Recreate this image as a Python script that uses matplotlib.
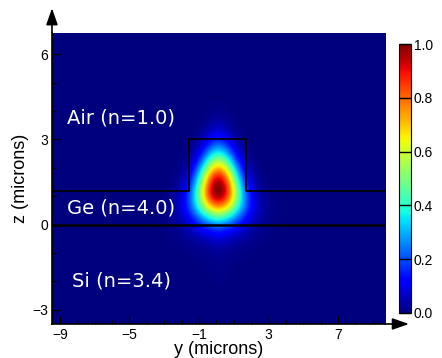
import matplotlib
matplotlib.use("Agg")
import matplotlib.pyplot as plt
import numpy as np

# structure (microns)
slab_top = 1.2
ridge_left, ridge_right, ridge_top = -1.6, 1.7, 3.0

# mode parameters
mode_y0, mode_z0 = 0.08, 1.2
mode_sy = 0.9
mode_sz_up, mode_sz_down = 0.92, 0.70
mode_taper = 0.17     # narrower on top
halo_amp, halo_len = 0.13, 1.0

y_lim = (-9.46, 9.7)
z_lim = (-3.5, 6.75)

xticks = [-9, -5, -1, 3, 7]
yticks = [-3, 0, 3, 6]
cticks = [0.0, 0.2, 0.4, 0.6, 0.8, 1.0]
labels = ["Air (n=1.0)", "Ge (n=4.0)", "Si (n=3.4)"]
label_pos = [(-8.6, 3.75), (-8.6, 0.58), (-8.3, -2.0)]

y = np.linspace(y_lim[0], y_lim[1], 600)
z = np.linspace(z_lim[0], z_lim[1], 400)
Y, Z = np.meshgrid(y, z)

sy = mode_sy * np.clip(1 - mode_taper * (Z - mode_z0), 0.3, None)
sz = np.where(Z > mode_z0, mode_sz_up, mode_sz_down)
core = np.exp(-((Y - mode_y0) / sy) ** 2 / 2 - ((Z - mode_z0) / sz) ** 2 / 2)
halo = halo_amp * np.exp(-np.abs(Y - mode_y0) / halo_len) * np.exp(-np.abs(Z - 0.6) / 0.8)
halo[(Z > slab_top) & ((Y < ridge_left) | (Y > ridge_right))] *= 0.2
field = np.clip(core + halo * (1 - core), 0, 1)

fig = plt.figure(figsize=(4.42, 3.58), dpi=100)
ax = fig.add_axes([0.1176, 0.095, 0.7534, 0.813])
im = ax.imshow(field, cmap="jet", vmin=0, vmax=1, origin="lower",
               extent=[y_lim[0], y_lim[1], z_lim[0], z_lim[1]], aspect="auto",
               interpolation="bilinear")

# layer outlines
ax.plot([y_lim[0], y_lim[1]], [0, 0], color="k", lw=1.8)
ax.plot([y_lim[0], ridge_left, ridge_left, ridge_right, ridge_right, y_lim[1]],
        [slab_top, slab_top, ridge_top, ridge_top, slab_top, slab_top], color="k", lw=1.2)

for t, p in zip(labels, label_pos):
    ax.text(p[0], p[1], t, color="white", fontsize=14, family="DejaVu Sans",
            va="center", ha="left")

ax.set_xlim(y_lim)
ax.set_ylim(z_lim)
ax.set_xticks(xticks)
ax.set_yticks(yticks)
ax.set_xticks(np.arange(-9, 10, 1), minor=True)
ax.set_yticks(np.arange(-3, 7, 1), minor=True)
ax.tick_params(direction="in", length=6, width=1, labelsize=10, pad=3)
ax.tick_params(which="minor", direction="in", length=3, width=1)
for lab in ax.get_xticklabels() + ax.get_yticklabels():
    lab.set_family("Liberation Sans")
ax.spines["top"].set_visible(False)
ax.spines["right"].set_visible(False)
ax.spines["left"].set_linewidth(1.2)
ax.spines["bottom"].set_linewidth(1.2)
ax.set_xlabel("y (microns)", fontsize=13, family="Liberation Sans", labelpad=-1)
ax.set_ylabel("z (microns)", fontsize=13, family="Liberation Sans", labelpad=2)

# axis arrows
ax.annotate("", xy=(0, 1.085), xytext=(0, 1.0), xycoords="axes fraction",
            arrowprops=dict(arrowstyle="-|>,head_length=1.0,head_width=0.35",
                            color="k", lw=1.2, shrinkA=0, shrinkB=0))
ax.annotate("", xy=(1.072, 0), xytext=(1.0, 0), xycoords="axes fraction",
            arrowprops=dict(arrowstyle="-|>,head_length=1.0,head_width=0.35",
                            color="k", lw=1.2, shrinkA=0, shrinkB=0))

cax = fig.add_axes([0.903, 0.1257, 0.027, 0.7513])
cb = fig.colorbar(im, cax=cax, ticks=cticks)
cb.outline.set_linewidth(0.8)
cb.ax.tick_params(direction="in", length=9, width=1, labelsize=10, pad=2)
cb.ax.set_yticklabels(["%.1f" % v for v in cticks], family="Liberation Sans")

fig.savefig("out.png", dpi=100)
